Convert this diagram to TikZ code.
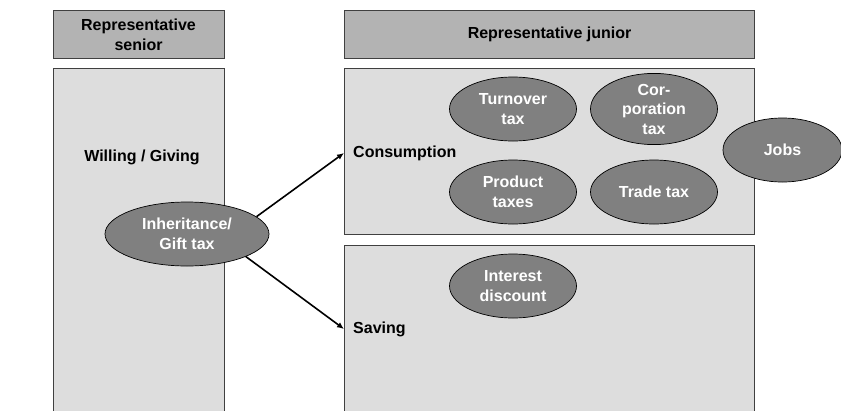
\documentclass[tikz,border=0pt]{standalone}
\usepackage{fontspec}
\setmainfont{Liberation Sans}
\usetikzlibrary{shapes.geometric,arrows.meta}
\definecolor{headgray}{HTML}{B3B3B3}
\definecolor{panelgray}{HTML}{DDDDDD}
\definecolor{ovalgray}{HTML}{808080}
\definecolor{edgegray}{HTML}{404040}
\begin{document}
\begin{tikzpicture}[x=1pt,y=-1pt,
  txt/.style={font=\fontsize{16}{19.5}\selectfont\bfseries, align=center},
  header/.style={txt, draw=edgegray, fill=headgray, line width=1.1pt, anchor=north west, inner sep=0pt},
  panel/.style={draw=edgegray, fill=panelgray, line width=1pt, anchor=north west, inner sep=0pt},
  oval/.style={txt, ellipse, draw=black, line width=0.7pt, fill=ovalgray, text=white,
    minimum width=127pt, minimum height=64pt, inner sep=0pt},
  label/.style={txt, anchor=west, inner ysep=0pt},
  flow/.style={line width=1.6pt, -{Latex[length=7pt,width=6pt]}}
]
\useasboundingbox (0,0) rectangle (841,410);

% column headers
\node[header, minimum width=171pt, minimum height=48pt] (senior) at (52.5,10) {Representative\\senior};
\node[header, minimum width=410pt, minimum height=48pt] (junior) at (344,10) {Representative junior};

% panels (the lower ones run past the bottom edge)
\node[panel, minimum width=171pt, minimum height=360pt] (giving) at (52.5,68) {};
\node[panel, minimum width=410pt, minimum height=166pt] (consbox) at (344,68) {};
\node[panel, minimum width=410pt, minimum height=180pt] (savbox) at (344,245) {};

% panel labels
\node[txt] (willing) at (142,157) {Willing / Giving};
\node[label, inner xsep=9pt] (cons) at (344,153) {Consumption};
\node[label, inner xsep=9pt] (sav) at (344,329) {Saving};

% taxes
\node[oval, minimum width=164pt] (inh) at (187,234) {Inheritance/\\Gift tax};
\node[oval] (turn) at (513,109) {Turnover\\tax};
\node[oval] (corp) at (654,109) {Cor-\\poration\\tax};
\node[oval] (prod) at (513,192) {Product\\taxes};
\node[oval] (trade) at (654,192) {Trade tax};
\node[oval, minimum width=119pt] (jobs) at (782.5,150) {Jobs};
\node[oval] (interest) at (513,286) {Interest\\discount};

% flows out of the transfer
\draw[flow] (inh.14) -- (cons.west);
\draw[flow] (inh.-21) -- (sav.west);
\end{tikzpicture}
\end{document}
